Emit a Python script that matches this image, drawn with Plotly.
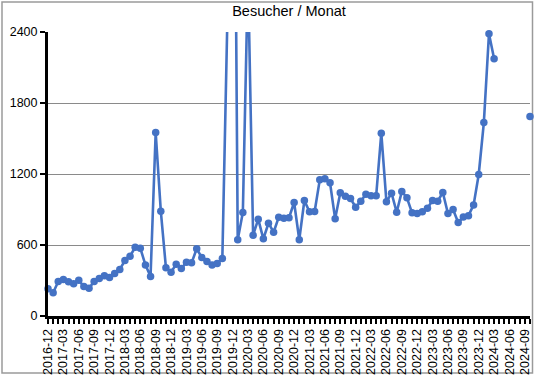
import plotly.graph_objects as go

# ---- data -------------------------------------------------------------
months = []
for yr in range(2016, 2025):
    for mo in range(1, 13):
        lab = f"{yr}-{mo:02d}"
        if "2016-12" <= lab <= "2024-10":
            months.append(lab)

visitors = [
    230, 196, 292, 308, 289, 272, 303, 249, 235, 292,
    317, 340, 325, 359, 393, 469, 505, 581, 573, 432,
    334, 1551, 886, 407, 370, 438, 401, 455, 449, 568,
    494, 460, 430, 444, 486, 2550, 6500, 644, 875, 2900,
    683, 818, 652, 784, 708, 835, 827, 830, 959, 644,
    976, 880, 883, 1151, 1159, 1126, 821, 1041, 1012, 993,
    919, 970, 1029, 1016, 1016, 1545, 965, 1038, 877, 1052,
    999, 872, 866, 880, 911, 976, 970, 1044, 866, 900,
    790, 836, 848, 939, 1196, 1635, 2385, 2173,
    None, None, None, None, None, None,
    1686,
]

y_ticks = [0, 600, 1200, 1800, 2400]
tick_labels = months[::3]

title_text = "Besucher / Monat"

# ---- figure -----------------------------------------------------------
idx = list(range(len(months)))
tick_pos = idx[::3]
Y_MAX = y_ticks[-1]

BLUE = "#4472C4"
FONT = "Liberation Sans, Arial, Helvetica, sans-serif"

W, H = 537, 377
L, R, T, B = 48, 7, 32, 61

fig = go.Figure()
fig.add_trace(go.Scatter(
    x=idx, y=visitors, mode="lines",
    line=dict(color=BLUE, width=2.6),
    connectgaps=False, cliponaxis=True, hoverinfo="skip",
))
marker_vals = [v if (v is not None and v <= Y_MAX) else None for v in visitors]
fig.add_trace(go.Scatter(
    x=idx, y=marker_vals, mode="markers",
    marker=dict(color=BLUE, size=7.5),
    cliponaxis=False,
))

pw = W - L - R
ph = H - T - B
frame = dict(x0=(2 - L) / pw, x1=(532.5 - L) / pw,
             y0=(H - B - 373) / ph, y1=(H - B - 2) / ph)
fig.add_shape(type="rect", xref="paper", yref="paper",
              line=dict(color="#9a9a9a", width=1.5), fillcolor="rgba(0,0,0,0)",
              layer="below", **frame)

fig.update_layout(
    width=W, height=H,
    margin=dict(l=L, r=R, t=T, b=B, pad=0, autoexpand=False),
    paper_bgcolor="white", plot_bgcolor="white",
    showlegend=False,
    font=dict(family=FONT, color="black", size=12.5),
    title=dict(text=title_text, x=0.5, xref="paper", xanchor="center",
               y=1 - 11 / H, yref="container", yanchor="middle",
               font=dict(family=FONT, size=14.5, color="black")),
)

fig.update_xaxes(
    range=[0, len(months) - 1], automargin=False,
    tickmode="array", tickvals=tick_pos, ticktext=tick_labels,
    tickangle=-90,
    showgrid=False, zeroline=False,
    showline=True, linecolor="black", linewidth=3,
    ticks="outside", ticklen=5, tickwidth=2, tickcolor="black",
    minor=dict(dtick=1, tick0=0, ticks="outside", ticklen=5, tickwidth=2,
               tickcolor="black", showgrid=False),
    tickfont=dict(size=12.5, family=FONT, color="black"),
)
fig.update_yaxes(
    range=[0, Y_MAX], automargin=False,
    tickmode="array", tickvals=y_ticks, ticktext=[str(v) for v in y_ticks],
    showgrid=True, gridcolor="#8a8a8a", gridwidth=1,
    zeroline=False,
    showline=True, linecolor="black", linewidth=3,
    ticks="outside", ticklen=5, tickwidth=2, tickcolor="black",
    tickfont=dict(size=12.5, family=FONT, color="black"),
)

fig.write_html("out.html", config={"displayModeBar": False},
               post_script="document.body.style.margin='0';document.body.style.overflow='hidden';")
